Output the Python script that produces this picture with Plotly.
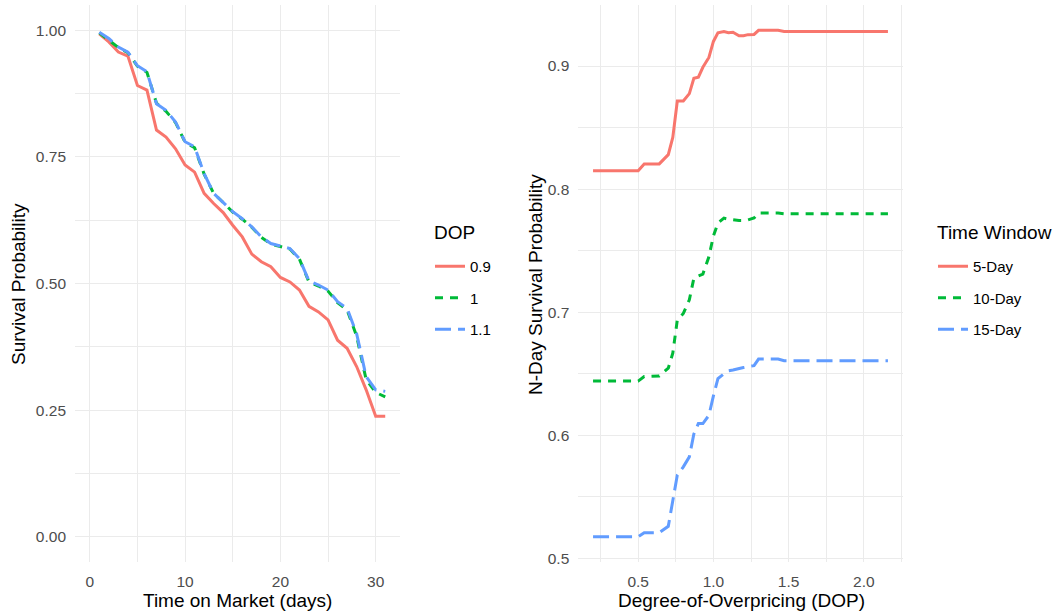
import plotly.graph_objects as go

# ---- Left panel data: survival curves by DOP ----
days = list(range(1, 32))
surv_09 = [0.993, 0.977, 0.957, 0.949, 0.891, 0.882, 0.803, 0.789, 0.766, 0.734,
           0.720, 0.678, 0.658, 0.640, 0.615, 0.592, 0.558, 0.543, 0.533, 0.512,
           0.503, 0.487, 0.455, 0.444, 0.428, 0.388, 0.372, 0.336, 0.290, 0.238, 0.238]
surv_10 = [0.995, 0.981, 0.966, 0.956, 0.929, 0.917, 0.856, 0.840, 0.818, 0.779,
           0.768, 0.716, 0.678, 0.660, 0.641, 0.627, 0.611, 0.591, 0.578, 0.573,
           0.568, 0.548, 0.503, 0.495, 0.485, 0.462, 0.448, 0.396, 0.310, 0.285, 0.276]
surv_11 = [0.996, 0.984, 0.967, 0.957, 0.930, 0.918, 0.855, 0.842, 0.819, 0.780,
           0.770, 0.717, 0.678, 0.661, 0.642, 0.628, 0.612, 0.592, 0.579, 0.574,
           0.569, 0.549, 0.505, 0.497, 0.487, 0.464, 0.451, 0.401, 0.316, 0.290, 0.287]
dop_labels = ["0.9", "1", "1.1"]

# ---- Right panel data: N-day survival by DOP ----
dop_grid = [0.20, 0.50, 0.54, 0.64, 0.70, 0.73, 0.76, 0.80, 0.84, 0.87, 0.90, 0.93, 0.97,
            1.00, 1.03, 1.07, 1.10, 1.13, 1.17, 1.20, 1.23, 1.27, 1.30, 1.43, 1.47, 2.16]
day5 = [0.815, 0.815, 0.8205, 0.8205, 0.828, 0.842, 0.8716, 0.8716, 0.8776, 0.890, 0.891,
        0.899, 0.907, 0.920, 0.927, 0.928, 0.927, 0.9275, 0.9246, 0.9246, 0.9255, 0.9257,
        0.929, 0.929, 0.928, 0.928]
day10 = [0.644, 0.644, 0.6477, 0.6482, 0.6545, 0.6667, 0.6937, 0.699, 0.710, 0.7276, 0.7295,
         0.731, 0.745, 0.762, 0.7724, 0.7764, 0.7756, 0.775, 0.7745, 0.7745, 0.775, 0.7765,
         0.7805, 0.7805, 0.780, 0.780]
day15 = [0.5175, 0.5175, 0.5208, 0.5208, 0.526, 0.547, 0.5676, 0.5743, 0.5824, 0.601, 0.6095,
         0.6095, 0.6162, 0.632, 0.646, 0.650, 0.6523, 0.653, 0.6545, 0.655, 0.6558, 0.6565,
         0.6619, 0.662, 0.6606, 0.6606]
window_labels = ["5-Day", "10-Day", "15-Day"]

colors = ["#F8766D", "#00BA38", "#619CFF"]
dashes = ["solid", "8px,7px", "16px,7px"]
FONT = "Liberation Sans, Arial, Helvetica, sans-serif"
W, H = 1059, 613

fig = go.Figure()
for i, (lab, ys) in enumerate(zip(dop_labels, [surv_09, surv_10, surv_11])):
    fig.add_trace(go.Scatter(x=days, y=ys, mode="lines", name=lab,
                             line=dict(color=colors[i], width=3, dash=dashes[i]),
                             xaxis="x", yaxis="y", legend="legend",
                             legendgroup="a" + str(i)))
for i, (lab, ys) in enumerate(zip(window_labels, [day5, day10, day15])):
    fig.add_trace(go.Scatter(x=dop_grid, y=ys, mode="lines", name=lab,
                             line=dict(color=colors[i], width=3, dash=dashes[i]),
                             xaxis="x2", yaxis="y2", legend="legend2",
                             legendgroup="b" + str(i)))

grid = "#EBEBEB"
tickfont = dict(family=FONT, size=15.5, color="#4D4D4D")
titlefont = dict(family=FONT, size=19, color="#000000")

def ax(**kw):
    base = dict(showgrid=True, gridcolor=grid, gridwidth=1.3, zeroline=False,
                showline=False, ticks="", tickfont=tickfont, automargin=False)
    base.update(kw)
    return base

def px(xp, yp):
    return xp / W, 1 - yp / H

ydom = [1 - 562 / H, 1 - 5 / H]
fig.update_layout(
    width=W, height=H,
    margin=dict(l=0, r=0, t=0, b=0),
    paper_bgcolor="white", plot_bgcolor="white",
    font=dict(family=FONT),
    xaxis=ax(domain=[75 / W, 400 / W], range=[-1.55, 32.55], tickvals=[0, 10, 20, 30],
             minor=dict(tickvals=[5, 15, 25], showgrid=True, gridcolor=grid, gridwidth=0.8),
             ticklabelstandoff=8, anchor="y"),
    yaxis=ax(domain=ydom, range=[-0.05, 1.05], tickvals=[0, 0.25, 0.5, 0.75, 1.0],
             tickformat=".2f",
             minor=dict(tickvals=[0.125, 0.375, 0.625, 0.875], showgrid=True,
                        gridcolor=grid, gridwidth=0.8),
             ticklabelstandoff=8, anchor="x"),
    xaxis2=ax(domain=[578.3 / W, 902.7 / W], range=[0.102, 2.258],
              tickvals=[0.5, 1.0, 1.5, 2.0], tickformat=".1f",
              minor=dict(tickvals=[0.25, 0.75, 1.25, 1.75, 2.25], showgrid=True,
                         gridcolor=grid, gridwidth=0.8),
              ticklabelstandoff=8, anchor="y2"),
    yaxis2=ax(domain=ydom, range=[0.497, 0.9496], tickvals=[0.5, 0.6, 0.7, 0.8, 0.9],
              tickformat=".1f",
              minor=dict(tickvals=[0.55, 0.65, 0.75, 0.85], showgrid=True,
                         gridcolor=grid, gridwidth=0.8),
              ticklabelstandoff=8, anchor="x2"),
    legend=dict(x=430 / W, y=1 - 250 / H, xanchor="left", yanchor="top",
                font=dict(family=FONT, size=15, color="#000"),
                bgcolor="rgba(0,0,0,0)", tracegroupgap=9, itemwidth=30),
    legend2=dict(x=933 / W, y=1 - 250 / H, xanchor="left", yanchor="top",
                 font=dict(family=FONT, size=15, color="#000"),
                 bgcolor="rgba(0,0,0,0)", tracegroupgap=9, itemwidth=30),
)

titles = [
    ("Time on Market (days)", 237, 600, 0),
    ("Survival Probability", 18, 284, -90),
    ("Degree-of-Overpricing (DOP)", 741, 600, 0),
    ("N-Day Survival Probability", 535, 285, -90),
]
for text, xp, yp, ang in titles:
    xx, yy = px(xp, yp)
    fig.add_annotation(text=text, x=xx, y=yy, xref="paper", yref="paper",
                       xanchor="center", yanchor="middle", showarrow=False,
                       textangle=ang, font=titlefont)

for text, xp, yp in [("DOP", 432, 232), ("Time Window", 935, 232)]:
    xx, yy = px(xp, yp)
    fig.add_annotation(text=text, x=xx, y=yy, xref="paper", yref="paper",
                       xanchor="left", yanchor="middle", showarrow=False,
                       font=titlefont)

fig.write_html("out.html", config={"displayModeBar": False},
               post_script="document.body.style.margin='0';document.body.style.overflow='hidden';")
